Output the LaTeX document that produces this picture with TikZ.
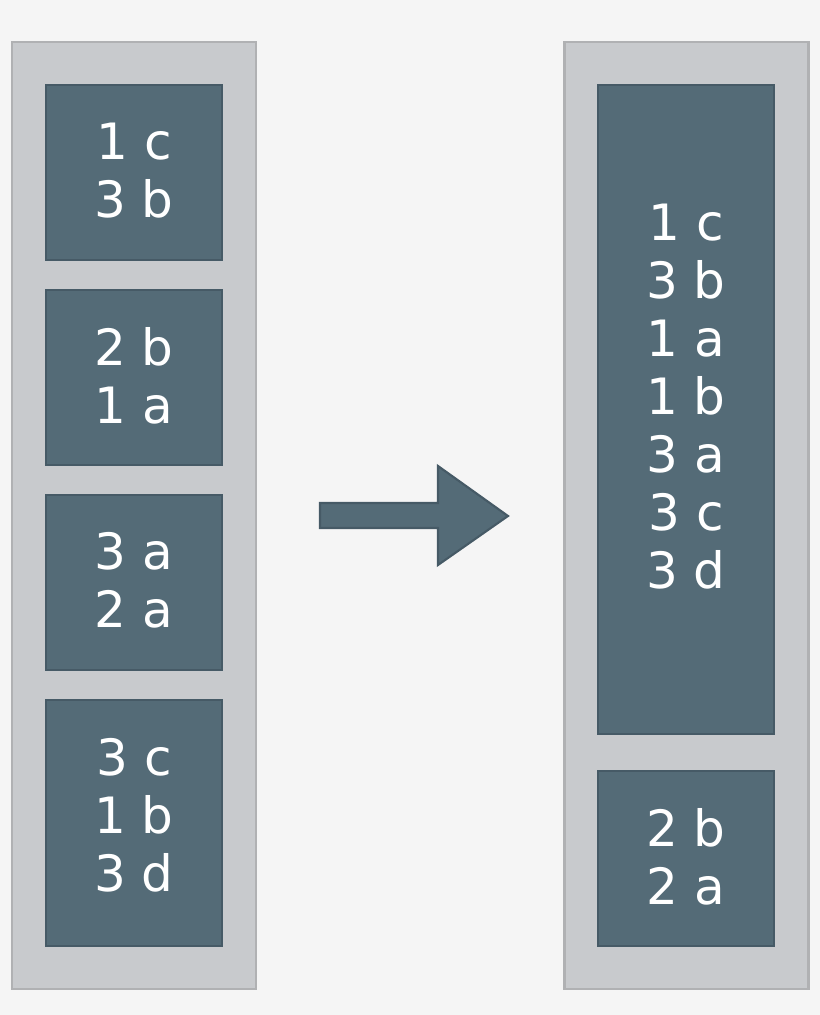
\documentclass[tikz,border=0pt]{standalone}
\usepackage{fontspec}
\setmainfont{DejaVu Sans}
\usepackage{tikz}
\usetikzlibrary{positioning,calc}
\definecolor{pagegray}{RGB}{245,245,245}
\definecolor{columngray}{RGB}{200,202,205}
\definecolor{columnedge}{RGB}{176,177,179}
\definecolor{blockslate}{RGB}{84,107,119}
\definecolor{blockedge}{RGB}{70,90,102}

\begin{document}
\begin{tikzpicture}[
	x=0.025cm, y=-0.025cm,
	column/.style={
		rectangle,
		draw=columnedge,
		fill=columngray,
		line width=1.5pt,
		minimum width=6.1cm,
		minimum height=23.675cm
	},
	block/.style={
		rectangle,
		draw=blockedge,
		fill=blockslate,
		line width=1.5pt,
		minimum width=4.4cm,
		minimum height=#1,
		text=white,
		align=center,
		text depth=0.11cm,
		font=\fontsize{35.6}{41.3}\selectfont
	},
	block/.default=4.375cm,
	bigarrow/.style={
		draw=blockedge,
		fill=blockslate,
		line width=1.5pt,
		line join=miter
	}
	]
	
	% Background
	\fill[pagegray] (0,0) rectangle (820,1015);
	\useasboundingbox (0,0) rectangle (820,1015);
	
	% Columns
	\node[column] (before) at (134,515.5) {};
	\node[column] (after) at (686.5,515.5) {};
	
	% Blocks - before
	\node[block] (b1) at (134,172.5) {1 c\\3 b};
	\node[block] (b2) at (134,377.5) {2 b\\1 a};
	\node[block] (b3) at (134,582.5) {3 a\\2 a};
	\node[block=6.15cm, text depth=0.425cm] (b4) at (134,823) {3 c\\1 b\\3 d};
	
	% Blocks - after
	\node[block=16.225cm, text depth=0.65cm] (a1) at (686,409.5) {1 c\\3 b\\1 a\\1 b\\3 a\\3 c\\3 d};
	\node[block] (a2) at (686,858.5) {2 b\\2 a};
	
	% Arrow
	\draw[bigarrow] (320,503) -- (438,503) -- (438,466) -- (508,516)
		-- (438,565) -- (438,528) -- (320,528) -- cycle;
	
\end{tikzpicture}
\end{document}
